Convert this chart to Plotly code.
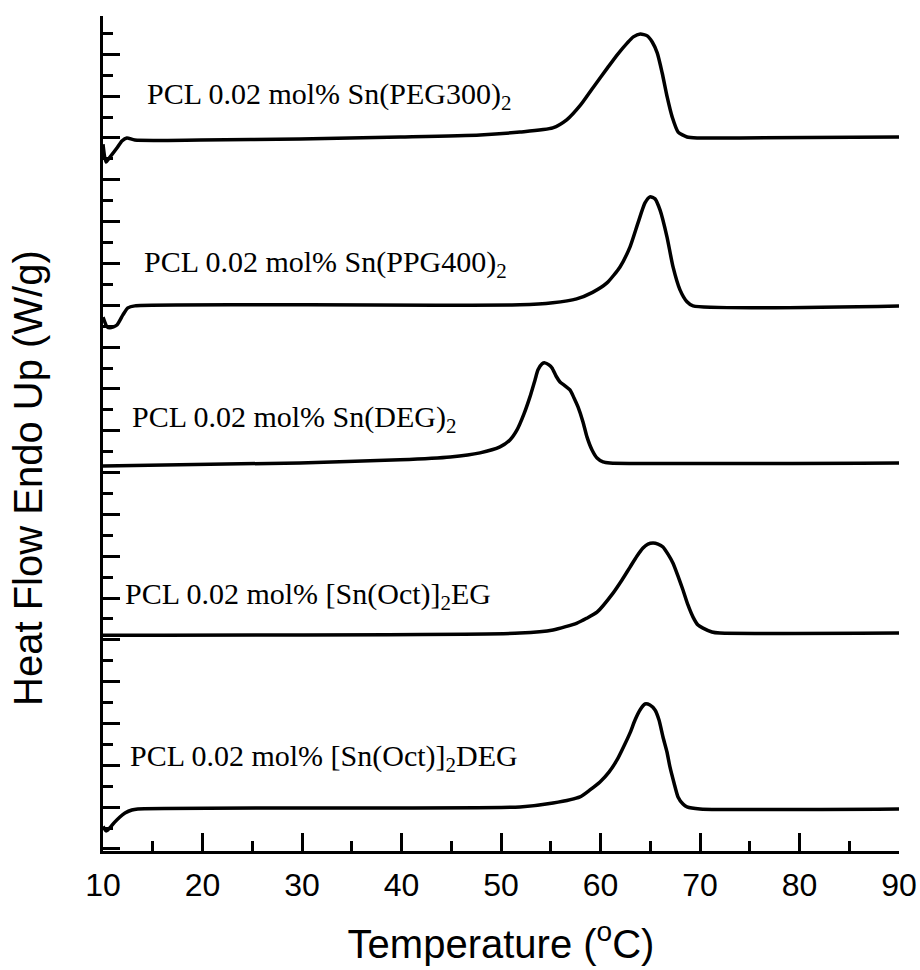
import plotly.graph_objects as go

# DSC heating traces of PCL prepared with different tin(II) initiators.
# Each trace: temperature (°C) and heat flow relative to its own baseline,
# stacked vertically by a fixed offset (arbitrary W/g units).

t_peg300 = [10.0, 10.3, 10.7, 11.4, 11.9, 12.4, 13.2, 19.8, 29.8, 39.9, 47.9, 51.9,
            55.2, 56.6, 58.0, 59.3, 60.7, 61.7, 62.7, 63.3, 64.0, 64.7, 65.2, 65.7,
            66.2, 66.7, 67.2, 67.8, 68.7, 69.7, 74.0, 90.0]
h_peg300 = [-0.35, -1.22, -0.98, -0.54, -0.20, -0.05, -0.15, -0.15, -0.10, 0.0, 0.10, 0.24,
            0.44, 0.83, 1.56, 2.44, 3.37, 4.02, 4.59, 4.88, 5.02, 4.93, 4.63, 4.10,
            3.12, 1.95, 0.98, 0.24, 0.0, -0.05, -0.05, 0.0]

t_ppg400 = [10.0, 10.4, 10.7, 11.4, 12.0, 12.5, 13.2, 29.8, 51.9, 55.2, 57.6, 59.2,
            60.65, 61.96, 62.97, 63.77, 64.47, 64.97, 65.48, 65.98, 66.68, 67.29,
            67.99, 68.69, 69.3, 90.0]
h_ppg400 = [-0.55, -1.02, -1.07, -0.93, -0.44, -0.10, 0.0, 0.05, 0.05, 0.15, 0.34, 0.66,
            1.12, 1.90, 2.88, 4.05, 5.02, 5.32, 5.22, 4.68, 3.37, 1.90,
            0.78, 0.20, 0.0, 0.0]

t_deg = [10.0, 29.8, 39.85, 44.9, 47.89, 49.9, 50.9, 51.61, 52.31, 52.91, 53.42, 53.72,
         54.12, 54.42, 54.82, 55.13, 55.53, 55.93, 56.43, 56.93, 57.34, 57.74, 58.24,
         58.64, 59.15, 59.65, 60.25, 60.95, 90.0]
h_deg = [-0.15, 0.0, 0.15, 0.29, 0.49, 0.78, 1.12, 1.61, 2.39, 3.22, 4.05, 4.54,
         4.83, 4.88, 4.78, 4.63, 4.24, 3.95, 3.76, 3.56, 3.17, 2.73, 2.00,
         1.27, 0.63, 0.24, 0.05, 0.0, 0.0]

t_oct_eg = [10.0, 51.9, 55.23, 57.64, 58.6, 59.65, 61.26, 62.16, 62.97, 63.67, 64.27, 64.77,
            65.28, 65.78, 66.28, 66.78, 67.29, 67.79, 68.29, 68.79, 69.30, 69.80,
            70.30, 71.2, 72.0, 90.0]
h_oct_eg = [-0.10, 0.0, 0.15, 0.49, 0.72, 1.02, 1.95, 2.59, 3.22, 3.76, 4.15, 4.34,
            4.39, 4.34, 4.20, 3.85, 3.41, 2.78, 2.10, 1.37, 0.78, 0.39,
            0.24, 0.05, 0.0, 0.0]

t_oct_deg = [10.0, 10.3, 10.5, 11.2, 11.7, 12.21, 12.9, 13.5, 29.8, 51.9, 55.23, 57.94,
             58.94, 59.95, 60.85, 61.66, 62.36, 62.97, 63.47, 63.97, 64.47, 64.97, 65.48,
             65.88, 66.28, 66.68, 66.98, 67.39, 67.79, 68.29, 68.69, 70.0, 90.0]
h_oct_deg = [-0.85, -1.07, -1.02, -0.63, -0.39, -0.20, -0.05, 0.0, 0.05, 0.10, 0.29, 0.59,
             0.93, 1.32, 1.80, 2.39, 3.07, 3.71, 4.34, 4.83, 5.12, 5.07, 4.83,
             4.34, 3.51, 2.78, 2.05, 1.27, 0.59, 0.24, 0.10, 0.0, 0.0]

offsets = [34.83, 26.59, 18.93, 10.63, 2.05]
labels = [
    "PCL 0.02 mol% Sn(PEG300)<sub>2</sub>",
    "PCL 0.02 mol% Sn(PPG400)<sub>2</sub>",
    "PCL 0.02 mol% Sn(DEG)<sub>2</sub>",
    "PCL 0.02 mol% [Sn(Oct)]<sub>2</sub>EG",
    "PCL 0.02 mol% [Sn(Oct)]<sub>2</sub>DEG",
]
label_x = [14.2, 13.9, 12.7, 12.0, 12.5]
label_y = [36.83, 28.63, 21.07, 12.44, 4.54]

x_ticks = [10, 20, 30, 40, 50, 60, 70, 80, 90]

series = [
    (t_peg300, h_peg300),
    (t_ppg400, h_ppg400),
    (t_deg, h_deg),
    (t_oct_eg, h_oct_eg),
    (t_oct_deg, h_oct_deg),
]

fig = go.Figure()
for (t, h), off, name in zip(series, offsets, labels):
    fig.add_trace(go.Scatter(
        x=t, y=[v + off for v in h], mode="lines", name=name,
        line=dict(color="black", width=3.5, shape="spline", smoothing=0.6),
        showlegend=False, hoverinfo="skip",
    ))

for txt, lx, ly in zip(labels, label_x, label_y):
    fig.add_annotation(
        x=lx, y=ly, xref="x", yref="y", text=txt, showarrow=False,
        xanchor="left", yanchor="middle",
        font=dict(family="Liberation Serif", size=30, color="black"),
    )

# y-axis title, placed slightly below the vertical centre of the axis
fig.add_annotation(
    x=-0.094, y=0.447, xref="paper", yref="paper",
    text="Heat Flow Endo Up (W/g)", textangle=-90, showarrow=False,
    xanchor="center", yanchor="middle",
    font=dict(family="Liberation Sans", size=40, color="black"),
)

fig.update_layout(
    width=920, height=970,
    margin=dict(l=103, r=21, t=16, b=119),
    paper_bgcolor="white", plot_bgcolor="white",
)
fig.update_xaxes(
    range=[10, 90], tickvals=x_ticks, ticktext=[str(v) for v in x_ticks],
    automargin=False,
    showline=True, linecolor="black", linewidth=3, mirror=False,
    ticks="inside", ticklen=18, tickwidth=2.5, tickcolor="black",
    minor=dict(dtick=5, ticks="inside", ticklen=10, tickwidth=2.5, tickcolor="black"),
    showgrid=False, zeroline=False,
    tickfont=dict(family="Liberation Sans", size=32, color="black"),
    ticklabelstandoff=4,
    title=dict(text="Temperature (<sup>o</sup>C)", standoff=28,
               font=dict(family="Liberation Sans", size=40, color="black")),
)
fig.update_yaxes(
    range=[0, 40.73], tick0=2.14, dtick=2.04, showticklabels=False,
    automargin=False,
    showline=True, linecolor="black", linewidth=3, mirror=False,
    ticks="inside", ticklen=17, tickwidth=2.5, tickcolor="black",
    minor=dict(tick0=1.12, dtick=1.02, ticks="inside", ticklen=10, tickwidth=2.5, tickcolor="black"),
    showgrid=False, zeroline=False,
)

fig.write_html("out.html")
